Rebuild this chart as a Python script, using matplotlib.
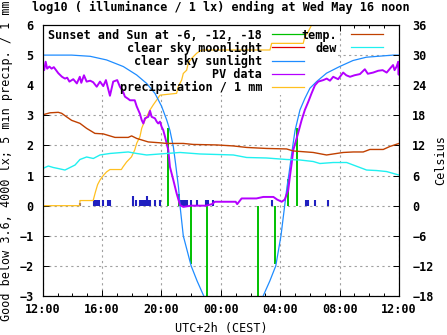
import numpy as np
import matplotlib
matplotlib.use('Agg')
import matplotlib.pyplot as plt
from matplotlib.patches import Rectangle
from matplotlib.lines import Line2D

# hours after 12:00 (UTC+2)
sun_h = [0, 1.95, 3.2, 4.3, 5.43, 6.33, 7.0, 7.56, 8.01, 8.35, 8.57, 8.8, 8.95, 9.05, 9.15, 9.25,
         9.47, 10.0, 10.4, 10.85, 11.3, 14.4, 14.85, 15.3, 15.7, 16.05, 16.3, 16.45, 16.6, 16.85,
         17.0, 17.33, 17.66, 18.0, 18.45, 19.12, 20.0, 20.9, 21.8, 23.6, 24.0]
sun_v = [5.0, 5.0, 4.96, 4.84, 4.62, 4.34, 4.06, 3.73, 3.3, 2.85, 2.5, 1.96, 1.4, 1.0, 0.6, 0.0,
         -1.0, -2.0, -2.5, -3.0, -3.6, -3.6, -3.0, -2.5, -2.0, -1.0, 0.0, 0.6, 1.1, 2.0,
         2.5, 3.18, 3.56, 3.9, 4.12, 4.4, 4.62, 4.82, 4.93, 5.0, 5.0]

pv_h = [0.0, 0.1, 0.2, 0.3, 0.45, 0.6, 0.75, 0.9, 1.05, 1.3, 1.5, 1.65, 1.8, 2.06, 2.3, 2.5, 2.6,
        2.78, 2.96, 3.2, 3.4, 3.64, 3.86, 4.08, 4.26, 4.4, 4.53, 4.75, 5.02, 5.2, 5.4, 5.54, 5.75,
        5.88, 6.2, 6.33, 6.55, 6.67, 6.78, 6.89, 7.11, 7.23, 7.34, 7.56, 7.68, 7.78, 7.9, 8.01,
        8.12, 8.24, 8.35, 8.46, 8.57, 8.8, 9.02, 9.25, 9.47, 10.0, 11.0, 11.4, 11.6, 13.0, 13.1,
        13.4, 14.4, 14.86, 15.54, 15.8, 16.1, 16.3, 16.54, 16.65, 16.77, 16.88, 17.2, 17.44,
        17.66, 17.89, 18.11, 18.34, 18.56, 18.9, 19.13, 19.35, 19.57, 19.9, 20.24, 20.45, 20.7,
        21.0, 21.37, 21.7, 21.9, 22.26, 22.6, 22.9, 23.17, 23.39, 23.6, 23.7, 23.84, 23.95,
        23.98, 24.0]
pv_v = [4.67, 4.5, 4.78, 4.55, 4.62, 4.55, 4.6, 4.5, 4.4, 4.28, 4.22, 4.25, 4.12, 4.2, 4.06, 4.28,
        4.08, 4.33, 4.12, 4.15, 4.1, 3.95, 4.12, 3.97, 4.17, 3.9, 3.65, 4.12, 4.17, 3.95, 3.8, 3.62,
        3.55, 3.5, 3.5, 3.3, 3.05, 2.84, 2.73, 2.9, 2.95, 3.15, 2.95, 2.9, 2.79, 2.73, 2.79, 2.62,
        2.51, 2.29, 2.07, 1.85, 1.29, 0.85, 0.41, 0.02, -0.04, 0.0, 0.0, 0.05, 0.13, 0.13, 0.05,
        0.24, 0.24, 0.29, 0.29, 0.2, 0.13, 0.2, 0.52, 0.96, 1.4, 1.85, 2.4, 2.84,
        3.18, 3.45, 3.73, 4.0, 4.12, 4.17, 4.22, 4.15, 4.28, 4.2, 4.42, 4.33, 4.28,
        4.33, 4.37, 4.53, 4.38, 4.42, 4.48, 4.5, 4.42, 4.55, 4.67, 4.5, 4.62, 4.78,
        4.35, 4.7]

rain_h = [0, 2.51, 2.51, 3.4, 3.55, 3.7, 3.86, 4.08, 4.3, 4.53, 5.3, 5.4, 5.65, 5.98, 6.2, 6.33,
          6.55, 6.67, 6.89, 7.11, 7.23, 7.45, 7.68, 7.9, 9.02, 9.13, 9.36, 9.47, 9.7, 9.8, 10.03,
          10.37, 10.7, 15.31, 15.42, 17.55, 17.66, 17.89, 18.11, 19.1, 19.3]
rain_v = [0, 0, 0.17, 0.17, 0.45, 0.7, 0.85, 1.0, 1.12, 1.2, 1.2, 1.28, 1.45, 1.62, 1.85, 2.07,
          2.29, 2.57, 2.84, 3.06, 3.18, 3.35, 3.51, 3.67, 3.73, 3.95, 4.17, 4.39, 4.5, 4.73, 4.89,
          5.06, 5.17, 5.17, 5.39, 5.39, 5.61, 5.78, 6.0, 6.0, 6.3]

bar_h = [2.51, 3.45, 3.55, 3.64, 3.81, 4.08, 4.42, 4.53, 6.1, 6.26, 6.55, 6.64, 6.73, 6.82, 6.91,
         7.02, 7.11, 7.23, 7.56, 7.9, 9.25, 9.36, 9.47, 9.58, 9.7, 9.97, 10.41, 11.0, 11.15, 11.49,
         15.42, 17.73, 17.89, 18.34, 19.19]
bar_v = [0.09, 0.18, 0.18, 0.18, 0.18, 0.18, 0.18, 0.18, 0.33, 0.18, 0.18, 0.18, 0.18, 0.18, 0.18,
         0.33, 0.18, 0.18, 0.18, 0.18, 0.18, 0.18, 0.18, 0.18, 0.18, 0.18, 0.18, 0.18, 0.18, 0.18,
         0.18, 0.18, 0.18, 0.18, 0.18]

# Sunset and sun at -6, -12, -18 degrees
mark_h = [8.47, 9.18, 9.97, 11.1, 14.53, 15.66, 16.5, 17.16]
mark_v = [2.57, 0.4, -1.95, -3.5, -3.5, -1.95, 0.9, 2.57]

temp_h = [0, 0.49, 1.05, 1.28, 1.61, 1.95, 2.51, 2.96, 3.52, 4.08, 4.87, 5.76, 5.99, 6.33, 7.11,
          8.01, 8.35, 9.47, 10.14, 11.72, 12.84, 13.74, 15.08, 16.43, 16.88, 17.78, 18.22, 19.12,
          19.57, 20.24, 20.92, 21.59, 22.04, 22.94, 23.39, 24.0]
temp_c = [18.1, 18.5, 18.6, 18.4, 17.7, 17.0, 16.4, 15.4, 14.4, 14.3, 13.6, 13.6, 13.9, 13.4, 12.7,
          12.5, 12.4, 12.4, 12.2, 12.1, 11.9, 11.6, 11.4, 11.3, 10.9, 10.7, 10.6, 10.1,
          10.3, 10.6, 10.7, 10.7, 11.2, 11.2, 11.8, 12.4]

dew_h = [0, 0.38, 0.72, 1.05, 1.5, 1.84, 2.18, 2.51, 2.96, 3.41, 3.86, 4.53, 5.76, 6.33, 7.0, 7.9,
         9.25, 10.59, 12.84, 13.74, 15.08, 16.43, 17.33, 18.22, 18.67, 19.57, 20.47, 20.92, 21.82,
         22.49, 23.16, 24.0]
dew_c = [7.4, 7.9, 7.6, 7.4, 7.1, 7.6, 8.1, 9.2, 9.7, 9.4, 10.1, 10.4, 10.7, 10.4, 10.1, 10.3,
         10.6, 10.3, 10.1, 9.6, 9.5, 9.2, 9.1, 8.8, 8.4, 8.6, 8.6, 8.1, 7.1,
         7.0, 6.8, 6.1]

xtick_labels = ['12:00', '16:00', '20:00', '00:00', '04:00', '08:00', '12:00']

plt.rcParams['font.family'] = 'DejaVu Sans Mono'
plt.rcParams['font.weight'] = 'bold'
plt.rcParams['font.size'] = 8.5

fig = plt.figure(figsize=(4.47, 3.35), dpi=100)
ax = fig.add_axes([0.0955, 0.1164, 0.7971, 0.809])
ax2 = ax.twinx()

grey = '#a0a0a0'
ax.set_axisbelow(True)
ax.grid(True, color=grey, linestyle=(0, (2, 3)), linewidth=0.8)

# opaque key area
ax.add_patch(Rectangle((0, 0.742), 0.829, 0.258, transform=ax.transAxes,
                       facecolor='white', edgecolor='none', zorder=1))

c_green = '#00c000'
c_red = '#e00000'
c_blue = '#1e8cff'
c_purple = '#b400ff'
c_orange = '#ffc020'
c_brown = '#c04000'
c_cyan = '#20f0f0'
c_bar = '#2020c0'

ax.vlines(bar_h, 0, bar_v, color=c_bar, linewidth=1.5, zorder=2)
ax.vlines(mark_h, 0, mark_v, color=c_green, linewidth=1.4, zorder=2)
ax.plot(rain_h, rain_v, color=c_orange, linewidth=0.9, zorder=3)
ax.plot(sun_h, sun_v, color=c_blue, linewidth=0.9, zorder=3)
ax.plot(pv_h, pv_v, color=c_purple, linewidth=1.4, zorder=3)
ax2.plot(temp_h, temp_c, color=c_brown, linewidth=1.0)
ax2.plot(dew_h, dew_c, color=c_cyan, linewidth=1.0)

ax.set_xlim(0, 24)
ax.set_ylim(-3, 6)
ax2.set_ylim(-18, 36)
ax.set_xticks(np.arange(0, 25, 4))
ax.set_xticklabels(xtick_labels)
ax.set_xticks(np.arange(0, 25, 1), minor=True)
ax.set_yticks(np.arange(-3, 7, 1))
ax2.set_yticks(np.arange(-18, 37, 6))

ax.tick_params(axis='x', which='major', direction='in', length=4.5, width=0.7, top=True, pad=5)
ax.tick_params(axis='x', which='minor', direction='in', length=2.2, width=0.7, top=True)
ax.tick_params(axis='y', direction='in', length=4.5, width=0.7, right=False, pad=6.5)
ax2.tick_params(axis='y', direction='in', length=4.5, width=0.7, pad=9.5)
for s in ax.spines.values():
    s.set_linewidth(0.8)
for s in ax2.spines.values():
    s.set_linewidth(0.8)

ax.set_title('log10 ( illuminance / 1 lx) ending at Wed May 16 noon', fontsize=8.5,
             fontweight='bold', pad=10)
ax.set_xlabel('UTC+2h (CEST)', labelpad=4)
ax.set_ylabel('Good below 3.6, 4000 lx; 5 min precip. / 1 mm')
ax.yaxis.set_label_coords(-0.083, 0.5)
ax2.set_ylabel('Celsius')
ax2.yaxis.set_label_coords(1.100, 0.5)

h1 = [Line2D([], [], color=c, linewidth=0.9) for c in [c_green, c_red, c_blue, c_purple, c_orange]]
l1 = ['Sunset and Sun at -6, -12, -18', 'clear sky moonlight', 'clear sky sunlight',
      'PV data', 'precipitation / 1 mm']
leg1 = ax2.legend(h1, l1, loc='upper right', bbox_to_anchor=(0.742, 1.0), frameon=False,
                  markerfirst=False, handlelength=2.7, handletextpad=0.8, labelspacing=0.0,
                  borderpad=0.3, borderaxespad=0, fontsize=8.5)
ax2.add_artist(leg1)
h2 = [Line2D([], [], color=c, linewidth=0.9) for c in [c_brown, c_cyan]]
l2 = ['temp.', 'dew']
ax2.legend(h2, l2, loc='upper right', bbox_to_anchor=(0.965, 1.0), frameon=False,
           markerfirst=False, handlelength=2.7, handletextpad=1.2, labelspacing=0.0,
           borderpad=0.3, borderaxespad=0, fontsize=8.5)

fig.savefig('out.png', dpi=100)
